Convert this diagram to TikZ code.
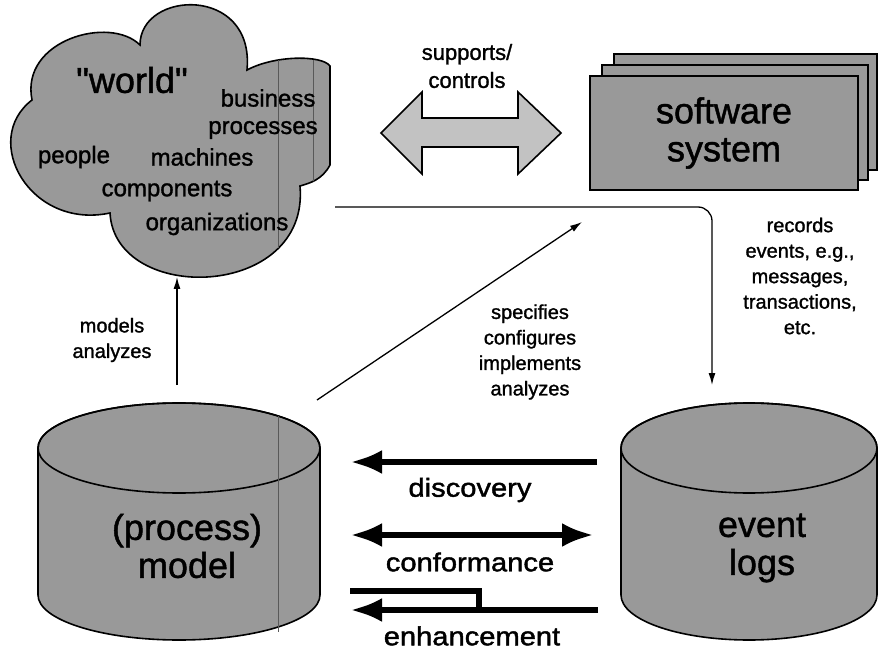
\documentclass[tikz,border=0pt]{standalone}
\usepackage{fontspec}
\setmainfont{Liberation Sans}
\newfontfamily\heavy[FakeBold=1.3]{Liberation Sans}
\newfontfamily\wideheavy[FakeStretch=1.12,FakeBold=1.6]{Liberation Sans}
\usetikzlibrary{arrows.meta}
\definecolor{shade}{gray}{0.6}
\definecolor{lightshade}{gray}{0.76}
\definecolor{seam}{gray}{0.35}
\begin{document}
\begin{tikzpicture}[x=1pt,y=-1pt,
  lbl/.style={font=\heavy\fontsize{20}{25.5}\selectfont, align=center, inner sep=0pt},
  cloudlbl/.style={font=\heavy\fontsize{24}{28}\selectfont, inner sep=0pt},
  big/.style={font=\heavy\fontsize{36}{38}\selectfont, align=center, inner sep=0pt},
  mining/.style={font=\wideheavy\fontsize{26}{30}\selectfont, inner sep=0pt},
  shapeline/.style={draw=black, line width=1.6pt},
  thinarrow/.style={line width=1.3pt, -{Latex[length=12pt,width=7pt]}},
  thickline/.style={line width=6.5pt},
  bigtip/.style={-{Latex[length=32pt,width=24pt]}},
  bigtips/.style={{Latex[length=32pt,width=24pt]}-{Latex[length=32pt,width=24pt]}}
]
\useasboundingbox (0,0) rectangle (878,652);

% ---------- cloud ("world")
\path[shapeline, fill=shade] (110,213)
  .. controls (30,230) and (-20,140) .. (32,100)
  .. controls (20,40) and (110,15) .. (140,45)
  .. controls (140,-10) and (255,-15) .. (247,70)
  .. controls (275,55) and (322,55) .. (330,66)
  -- (330,165)
  .. controls (322,180) and (310,183) .. (300,186)
  .. controls (310,300) and (115,305) .. (110,213) -- cycle;
\begin{scope}
  \clip (110,213)
  .. controls (30,230) and (-20,140) .. (32,100)
  .. controls (20,40) and (110,15) .. (140,45)
  .. controls (140,-10) and (255,-15) .. (247,70)
  .. controls (275,55) and (322,55) .. (330,66)
  -- (330,165)
  .. controls (322,180) and (310,183) .. (300,186)
  .. controls (310,300) and (115,305) .. (110,213) -- cycle;
  \draw[seam, line width=0.9pt] (278,60) -- (278,270);
  \draw[seam, line width=0.9pt] (313,60) -- (313,190);
\end{scope}
\node[font=\heavy\fontsize{36}{40}\selectfont, inner sep=0pt] (world) at (132,80) {\char34 world\char34};
\node[cloudlbl] (business) at (268,98) {business};
\node[cloudlbl] (processes) at (263,130) {processes};
\node[cloudlbl] (people) at (74,157) {people};
\node[cloudlbl] (machines) at (202,157) {machines};
\node[cloudlbl] (components) at (167,191) {components};
\node[cloudlbl] (organizations) at (217,224) {organizations};

% ---------- supports / controls double arrow
\path[shapeline, fill=lightshade] (381,133) -- (422,92) -- (422,118) -- (518,118)
  -- (518,92) -- (561,133) -- (518,174) -- (518,147) -- (422,147) -- (422,174) -- cycle;
\node[lbl, font=\heavy\fontsize{22}{28}\selectfont] (supports) at (467,66) {supports/\\controls};

% ---------- software system
\draw[line width=2pt, fill=shade] (614,54) rectangle (877,170);
\draw[line width=2pt, fill=shade] (602,65) rectangle (868,180);
\draw[line width=2pt, fill=shade] (590,76) rectangle (858,190);
\node[big] (software) at (724,133) {software\\system};

% ---------- cylinders
\path[shapeline, fill=shade] (38,448) -- (38,595)
  arc[start angle=180, end angle=360, x radius=141pt, y radius=45pt]
  -- (320,448) arc[start angle=0, end angle=180, x radius=141pt, y radius=45pt] -- cycle;
\draw[shapeline] (179,448) ellipse[x radius=141pt, y radius=45pt];
\draw[seam, line width=0.8pt] (278,416) -- (278,632);
\node[big] (model) at (187,546) {(process)\\model};

\path[shapeline, fill=shade] (621,448) -- (621,595)
  arc[start angle=180, end angle=360, x radius=128pt, y radius=45pt]
  -- (877,448) arc[start angle=0, end angle=180, x radius=128pt, y radius=45pt] -- cycle;
\draw[shapeline] (749,448) ellipse[x radius=128pt, y radius=45pt];
\node[big] (logs) at (762,548) {event\\logs};

% ---------- connectors
\coordinate (cloudout) at (335,207);
\coordinate (logsin) at (712,385);
\draw[thinarrow, rounded corners=14pt] (cloudout) -- (712,207) -- (logsin);
\node[lbl] (records) at (800,276) {records\\events, e.g.,\\messages,\\transactions,\\etc.};

\coordinate (modeltop) at (177,385);
\coordinate (cloudbottom) at (177,277);
\draw[thinarrow] (modeltop) -- (cloudbottom);
\node[lbl] (models) at (112,340) {models\\analyzes};

\coordinate (modelright) at (317,400);
\coordinate (swtarget) at (582,222);
\draw[thinarrow] (modelright) -- (swtarget);
\node[lbl] (specifies) at (530,352) {specifies\\configures\\implements\\analyzes};

% ---------- process mining arrows
\coordinate (dR) at (597,462); \coordinate (dL) at (350,462);
\draw[thickline, bigtip] (dR) -- (dL);
\node[mining] (discovery) at (470,490) {discovery};

\coordinate (cL) at (350,535); \coordinate (cR) at (594,535);
\draw[thickline, bigtips] (cL) -- (cR);
\node[mining] (conformance) at (470,562) {conformance};

\coordinate (eU) at (350,591); \coordinate (eR) at (598,610); \coordinate (eL) at (350,610);
\draw[thickline, line cap=butt] (eU) -- (479,591) -- (479,612);
\draw[thickline, bigtip] (eR) -- (eL);
\node[mining] (enhancement) at (472,636) {enhancement};
\end{tikzpicture}
\end{document}
